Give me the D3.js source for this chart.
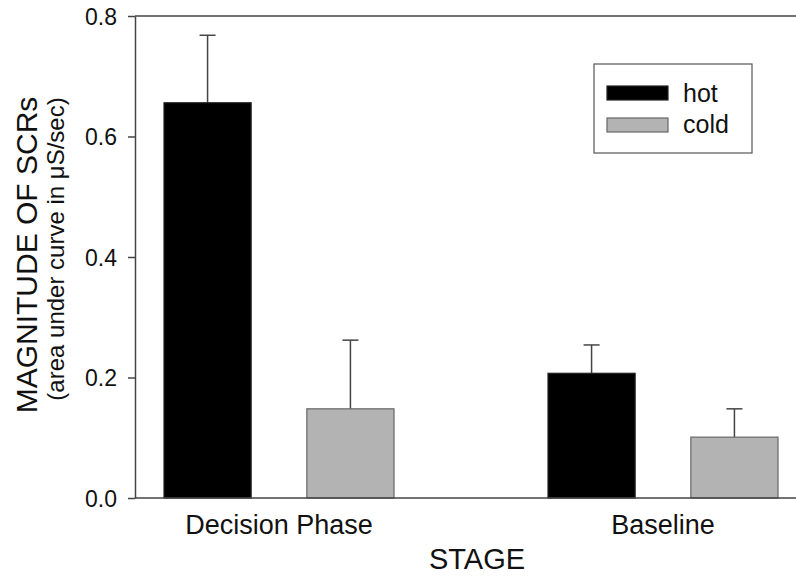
<!DOCTYPE html>
<html>
<head>
<meta charset="utf-8">
<script src="https://cdn.jsdelivr.net/npm/d3@7"></script>
<style>
  html, body { margin: 0; padding: 0; background: #fff; }
  svg { display: block; }
  text { font-family: "Liberation Sans", Arial, sans-serif; fill: #111; }
</style>
</head>
<body>
<svg id="chart" width="796" height="577"></svg>
<script>
const categories = ["Decision Phase", "Baseline"];
const seriesNames = ["hot", "cold"];
const hotValues = [0.656, 0.207];
const coldValues = [0.148, 0.101];
const hotErrors = [0.112, 0.047];
const coldErrors = [0.114, 0.047];
const yTicks = [0.0, 0.2, 0.4, 0.6, 0.8];
const colors = { hot: "#000000", cold: "#b3b3b3" };

const svg = d3.select("#chart");
const plotLeft = 135, plotTop = 16, plotBottom = 498, plotRight = 796;

const y = d3.scaleLinear().domain([0, 0.8]).range([plotBottom, plotTop]);
const x = d3.scaleBand().domain(categories).range([87, 855]).padding(0);
const xSub = d3.scaleBand().domain(seriesNames).range([-115, 115]).paddingInner(0.39);

const data = [];
categories.forEach((c, i) => {
  data.push({ cat: c, s: "hot", v: hotValues[i], e: hotErrors[i] });
  data.push({ cat: c, s: "cold", v: coldValues[i], e: coldErrors[i] });
});

const axisColor = "#444";

// error bars
const eb = svg.append("g");
data.forEach(d => {
  const cx = x(d.cat) + x.bandwidth() / 2 + xSub(d.s) + xSub.bandwidth() / 2;
  eb.append("line").attr("x1", cx).attr("x2", cx)
    .attr("y1", y(d.v)).attr("y2", y(d.v + d.e))
    .attr("stroke", axisColor).attr("stroke-width", 1.5);
  eb.append("line").attr("x1", cx - 8).attr("x2", cx + 8)
    .attr("y1", y(d.v + d.e)).attr("y2", y(d.v + d.e))
    .attr("stroke", axisColor).attr("stroke-width", 1.5);
});

// bars
svg.append("g").selectAll("rect").data(data).join("rect")
  .attr("x", d => x(d.cat) + x.bandwidth() / 2 + xSub(d.s))
  .attr("width", xSub.bandwidth())
  .attr("y", d => y(d.v))
  .attr("height", d => y(0) - y(d.v))
  .attr("fill", d => colors[d.s])
  .attr("stroke", d => d.s === "hot" ? "#222" : "#666")
  .attr("stroke-width", 1.2);

// y axis
const yAxis = d3.axisLeft(y).tickValues(yTicks).tickFormat(d3.format(".1f")).tickSize(7).tickSizeOuter(0);
const gy = svg.append("g").attr("transform", `translate(${plotLeft},0)`).call(yAxis);
gy.select(".domain").attr("stroke", axisColor).attr("stroke-width", 1.5);
gy.selectAll(".tick line").attr("stroke", axisColor).attr("stroke-width", 1.5);
gy.selectAll(".tick text").attr("font-size", 23).attr("x", -18).attr("dy", "0.36em")
  .style("font-family", "'Liberation Sans', Arial, sans-serif").attr("fill", "#111");

// top border and baseline
svg.append("line").attr("x1", plotLeft).attr("x2", plotRight).attr("y1", plotTop).attr("y2", plotTop)
  .attr("stroke", axisColor).attr("stroke-width", 1.5);
svg.append("line").attr("x1", plotLeft).attr("x2", plotRight).attr("y1", plotBottom).attr("y2", plotBottom)
  .attr("stroke", axisColor).attr("stroke-width", 1.5);

// x category labels
const xAxis = d3.axisBottom(x).tickSize(0).tickPadding(0);
const gx = svg.append("g").attr("transform", `translate(0,${plotBottom})`).call(xAxis);
gx.select(".domain").remove();
gx.selectAll(".tick text").attr("font-size", 27).attr("y", 36).attr("dy", 0)
  .style("font-family", "'Liberation Sans', Arial, sans-serif").attr("fill", "#111");

// axis titles
svg.append("text").attr("x", 477).attr("y", 569).attr("text-anchor", "middle")
  .attr("font-size", 29).text("STAGE");
svg.append("text").attr("transform", "translate(37,255) rotate(-90)").attr("text-anchor", "middle")
  .attr("font-size", 30).text("MAGNITUDE OF SCRs");
svg.append("text").attr("transform", "translate(64,249) rotate(-90)").attr("text-anchor", "middle")
  .attr("font-size", 24).text("(area under curve in μS/sec)");

// legend
const lg = svg.append("g");
lg.append("rect").attr("x", 594).attr("y", 64).attr("width", 158).attr("height", 89)
  .attr("fill", "#fff").attr("stroke", "#555").attr("stroke-width", 1.2);
seriesNames.forEach((s, i) => {
  lg.append("rect").attr("x", 607).attr("y", 86 + i * 32).attr("width", 61).attr("height", 14)
    .attr("fill", colors[s]).attr("stroke", s === "hot" ? "#222" : "#666").attr("stroke-width", 1.2);
  lg.append("text").attr("x", 683).attr("y", 102 + i * 31).attr("font-size", 25).text(s);
});
</script>
</body>
</html>
